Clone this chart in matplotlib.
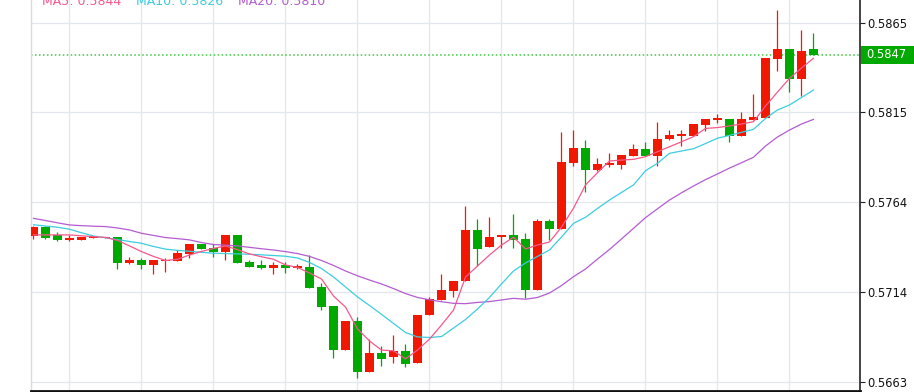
import numpy as np
import matplotlib
matplotlib.use('Agg')
import matplotlib.pyplot as plt
from matplotlib.patches import Rectangle

# OHLC, one candle per bar (oldest first)
opens = [0.57454, 0.57504, 0.57458, 0.57432, 0.57431, 0.57439, 0.57442, 0.57446, 0.57302, 0.57317,
         0.57290, 0.57310, 0.57311, 0.57352, 0.57409, 0.57386, 0.57360, 0.57458, 0.57306, 0.57287,
         0.57270, 0.57287, 0.57270, 0.57276, 0.57165, 0.57058, 0.56809, 0.56974, 0.56689, 0.56794,
         0.56770, 0.56805, 0.56739, 0.57009, 0.57090, 0.57141, 0.57200, 0.57488, 0.57392, 0.57445,
         0.57458, 0.57435, 0.57148, 0.57538, 0.57493, 0.57865, 0.57949, 0.57824, 0.57854, 0.57853,
         0.57904, 0.57940, 0.57904, 0.57996, 0.58016, 0.58017, 0.58077, 0.58106, 0.58109, 0.58017,
         0.58105, 0.58116, 0.58446, 0.58503, 0.58336, 0.58503]
highs = [0.57506, 0.57506, 0.57476, 0.57458, 0.57446, 0.57446, 0.57449, 0.57449, 0.57336, 0.57326,
         0.57317, 0.57326, 0.57373, 0.57407, 0.57409, 0.57405, 0.57458, 0.57458, 0.57317, 0.57317,
         0.57307, 0.57307, 0.57294, 0.57345, 0.57186, 0.57058, 0.56974, 0.56998, 0.56872, 0.56835,
         0.56895, 0.56844, 0.57008, 0.57107, 0.57236, 0.57199, 0.57621, 0.57548, 0.57559, 0.57458,
         0.57578, 0.57467, 0.57548, 0.57548, 0.58039, 0.58049, 0.57991, 0.57889, 0.57921, 0.57910,
         0.57971, 0.57981, 0.58092, 0.58049, 0.58049, 0.58081, 0.58109, 0.58139, 0.58109, 0.58150,
         0.58251, 0.58452, 0.58724, 0.58503, 0.58611, 0.58593]
lows = [0.57437, 0.57437, 0.57426, 0.57426, 0.57431, 0.57438, 0.57439, 0.57266, 0.57296, 0.57266,
        0.57236, 0.57248, 0.57311, 0.57326, 0.57381, 0.57336, 0.57317, 0.57302, 0.57279, 0.57266,
        0.57236, 0.57245, 0.57266, 0.57161, 0.57036, 0.56764, 0.56809, 0.56655, 0.56689, 0.56722,
        0.56736, 0.56713, 0.56739, 0.57009, 0.57090, 0.57107, 0.57200, 0.57285, 0.57392, 0.57386,
        0.57386, 0.57105, 0.57148, 0.57430, 0.57493, 0.57848, 0.57698, 0.57820, 0.57839, 0.57829,
        0.57904, 0.57904, 0.57848, 0.57991, 0.57960, 0.58017, 0.58045, 0.58090, 0.57979, 0.58017,
        0.58105, 0.58116, 0.58382, 0.58262, 0.58240, 0.58470]
closes = [0.57504, 0.57443, 0.57430, 0.57436, 0.57446, 0.57445, 0.57445, 0.57302, 0.57317, 0.57290,
          0.57317, 0.57314, 0.57356, 0.57407, 0.57381, 0.57364, 0.57458, 0.57302, 0.57279, 0.57270,
          0.57287, 0.57270, 0.57283, 0.57161, 0.57051, 0.56811, 0.56974, 0.56689, 0.56794, 0.56758,
          0.56805, 0.56730, 0.57008, 0.57097, 0.57148, 0.57199, 0.57488, 0.57381, 0.57448, 0.57458,
          0.57430, 0.57150, 0.57538, 0.57493, 0.57869, 0.57949, 0.57824, 0.57859, 0.57860, 0.57910,
          0.57940, 0.57904, 0.57998, 0.58020, 0.58020, 0.58081, 0.58109, 0.58110, 0.58017, 0.58109,
          0.58120, 0.58452, 0.58503, 0.58337, 0.58493, 0.58472]

# moving averages as drawn on the chart
ma5 = [0.57458, 0.57458, 0.57458, 0.57458, 0.57453, 0.57448, 0.57444, 0.57427, 0.57396, 0.57364,
       0.57337, 0.57314, 0.57321, 0.57345, 0.57365, 0.57382, 0.57396, 0.57375, 0.57351, 0.57335,
       0.57321, 0.57289, 0.57275, 0.57244, 0.57210, 0.57114, 0.57052, 0.56929, 0.56861, 0.56810,
       0.56806, 0.56760, 0.56810, 0.56872, 0.56951, 0.57035, 0.57221, 0.57283, 0.57345, 0.57401,
       0.57445, 0.57379, 0.57401, 0.57418, 0.57502, 0.57608, 0.57739, 0.57808, 0.57874, 0.57879,
       0.57883, 0.57898, 0.57926, 0.57954, 0.57982, 0.58011, 0.58057, 0.58062, 0.58071, 0.58082,
       0.58095, 0.58183, 0.58262, 0.58339, 0.58397, 0.58452]
ma10 = [0.57515, 0.57508, 0.57501, 0.57490, 0.57470, 0.57452, 0.57442, 0.57432, 0.57421, 0.57411,
        0.57393, 0.57378, 0.57371, 0.57366, 0.57360, 0.57355, 0.57353, 0.57351, 0.57349, 0.57346,
        0.57342, 0.57338, 0.57328, 0.57303, 0.57269, 0.57221, 0.57165, 0.57109, 0.57061, 0.57011,
        0.56960, 0.56909, 0.56884, 0.56881, 0.56886, 0.56934, 0.56982, 0.57041, 0.57106, 0.57182,
        0.57255, 0.57300, 0.57337, 0.57373, 0.57446, 0.57523, 0.57557, 0.57607, 0.57654, 0.57697,
        0.57739, 0.57819, 0.57861, 0.57917, 0.57930, 0.57943, 0.57972, 0.58002, 0.58018, 0.58035,
        0.58052, 0.58113, 0.58161, 0.58189, 0.58231, 0.58273]
ma20 = [0.57551, 0.57539, 0.57526, 0.57514, 0.57510, 0.57507, 0.57505, 0.57497, 0.57486, 0.57467,
        0.57455, 0.57443, 0.57437, 0.57430, 0.57415, 0.57404, 0.57400, 0.57396, 0.57388, 0.57380,
        0.57373, 0.57364, 0.57353, 0.57337, 0.57314, 0.57286, 0.57255, 0.57228, 0.57204, 0.57182,
        0.57156, 0.57128, 0.57106, 0.57093, 0.57082, 0.57073, 0.57071, 0.57078, 0.57083, 0.57092,
        0.57101, 0.57096, 0.57106, 0.57131, 0.57173, 0.57223, 0.57266, 0.57322, 0.57376, 0.57435,
        0.57495, 0.57555, 0.57605, 0.57654, 0.57695, 0.57733, 0.57769, 0.57801, 0.57834, 0.57864,
        0.57895, 0.57958, 0.58009, 0.58048, 0.58082, 0.58108]

legend_labels = ['MA5: 0.5844', 'MA10: 0.5826', 'MA20: 0.5810']
ytick_vals = [0.56632, 0.57137, 0.57642, 0.58147, 0.58652]
ytick_labels = ['0.5663', '0.5714', '0.5764', '0.5815', '0.5865']

RED = '#f01800'
GREEN = '#00a800'
C_MA5 = '#f7588c'
C_MA10 = '#3ccde0'
C_MA20 = '#b45cd2'
GRID = '#e2e7ee'

W, H = 914, 392
fig = plt.figure(figsize=(W / 100, H / 100), dpi=100)
ax = fig.add_axes([30.7 / W, 1 / H, (860 - 30.7) / W, 391 / H])

o = np.array(opens); h = np.array(highs); l = np.array(lows); c = np.array(closes)
x = np.arange(len(o))
up = c >= o
colors = np.where(up, RED, GREEN)

# grid
for gx in np.arange(3, 69, 6):
    ax.axvline(gx, color=GRID, lw=0.9, zorder=0)
for gy in ytick_vals:
    ax.axhline(gy, color=GRID, lw=0.9, zorder=0)

# candles
ax.vlines(x, l, h, colors=colors, lw=0.9, zorder=2)
body_lo = np.minimum(o, c)
body_h = np.maximum(np.abs(c - o), 0.00007)
ax.bar(x, body_h, bottom=body_lo, width=0.75, color=colors, linewidth=0, zorder=3)

# moving averages
ax.plot(x, ma20, color=C_MA20, lw=0.9, zorder=4)
ax.plot(x, ma10, color=C_MA10, lw=0.9, zorder=4)
ax.plot(x, ma5, color=C_MA5, lw=0.9, zorder=4)

# last price line
last = closes[-1]
ax.axhline(last, color='#3fc83f', lw=1.1, ls=(0, (1, 1.6)), zorder=1)

ymin, ymax = 0.565797, 0.587797
ax.set_xlim(-0.233, 68.875)
ax.set_ylim(ymin, ymax)

ax.yaxis.tick_right()
ax.set_yticks(ytick_vals)
ax.set_yticklabels(ytick_labels)
ax.tick_params(axis='y', direction='out', length=3.5, width=0.8, color='#222222',
               labelsize=8.3, labelcolor='#111111', pad=1.5)
ax.set_xticks([])

ax.spines['top'].set_visible(False)
ax.spines['left'].set_color('#d5dbe2')
ax.spines['left'].set_linewidth(1.0)
ax.spines['right'].set_color('#222222')
ax.spines['right'].set_linewidth(1.2)
ax.spines['bottom'].set_color('#111111')
ax.spines['bottom'].set_linewidth(2.0)

# price tag on the right axis
y_px = (last - ymin) / (ymax - ymin) * 391 + 1
box_h = 18.3
fig.patches.append(Rectangle((861 / W, (y_px - box_h / 2) / H), (W - 861) / W, box_h / H,
                             transform=fig.transFigure, facecolor=GREEN, edgecolor='none'))
fig.text(866 / W, y_px / H, f'{last:.4f}', color='white', fontsize=8.3,
         va='center', ha='left')

# MA legend text at the top (cut off in the original)
for label, col, px in zip(legend_labels, [C_MA5, C_MA10, C_MA20], [41.7, 136, 238]):
    fig.text(px / W, 1 - 5 / H, label, color=col, fontsize=9, va='baseline', ha='left')

fig.savefig('out.png', dpi=100)
